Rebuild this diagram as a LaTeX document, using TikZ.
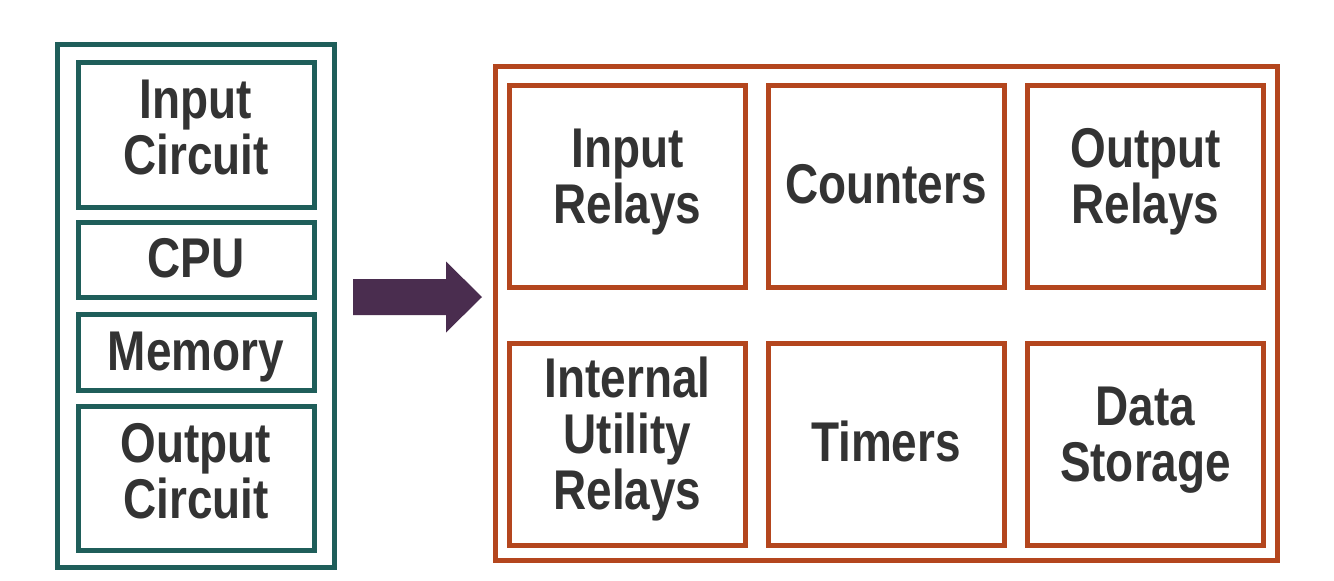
\documentclass[tikz,border=0pt]{standalone}
\usepackage{fontspec}
\setmainfont[FakeStretch=0.82]{Liberation Sans}

\definecolor{plcteal}{HTML}{1F5E5A}
\definecolor{plcrust}{HTML}{B4461E}
\definecolor{plcarrow}{HTML}{4A2D4F}
\definecolor{plctext}{HTML}{333333}

\tikzset{
  boxtext/.style={text=plctext, align=center, inner sep=0pt,
    font=\fontsize{56}{56}\selectfont\bfseries},
  hwbox/.style={boxtext, draw=plcteal, line width=5pt, minimum width=236pt},
  membox/.style={boxtext, draw=plcrust, line width=5pt, minimum width=236pt, minimum height=202pt},
  % fixed text box sizes, so the caps sit where the picture has them
  oneline/.style={text height=38.5pt, text depth=3pt},
  twolines/.style={text height=94.5pt, text depth=#1pt},
  twolines/.default=15,
  threelines/.style={text height=150.5pt, text depth=20pt}
}

\begin{document}
\begin{tikzpicture}[x=1pt,y=-1pt]

% white background, fixes the size
\fill[white] (0,0) rectangle (1334,581);
\useasboundingbox (0,0) rectangle (1334,581);

% PLC hardware parts
\draw[plcteal, line width=5pt] (57.5,44.5) rectangle (334.5,567.5);
\node[hwbox, twolines, minimum height=145pt] (incircuit) at (196,135) {Input\\Circuit};
\node[hwbox, oneline, minimum height=75pt] (cpu) at (196,260) {CPU};
\node[hwbox, oneline, minimum height=76pt] (memory) at (196,352.5) {Memory};
\node[hwbox, twolines, minimum height=144pt] (outcircuit) at (196,478.5) {Output\\Circuit};

% block arrow
\fill[plcarrow] (353,279) -- (446,279) -- (446,261.5) -- (482,297)
  -- (446,332.5) -- (446,315) -- (353,315) -- cycle;

% memory areas
\draw[plcrust, line width=5pt] (495.5,66.5) rectangle (1277.5,560.5);
\node[membox, twolines=20] (inrelays) at (627.5,186) {Input\\Relays};
\node[membox, oneline] (counters) at (886,186) {Counters};
\node[membox, twolines=20] (outrelays) at (1145.5,186) {Output\\Relays};
\node[membox, threelines] (intrelays) at (627.5,444) {Internal\\Utility\\Relays};
\node[membox, oneline] (timers) at (886,444) {Timers};
\node[membox, twolines=20] (datastore) at (1145.5,444) {Data\\Storage};

\end{tikzpicture}
\end{document}
